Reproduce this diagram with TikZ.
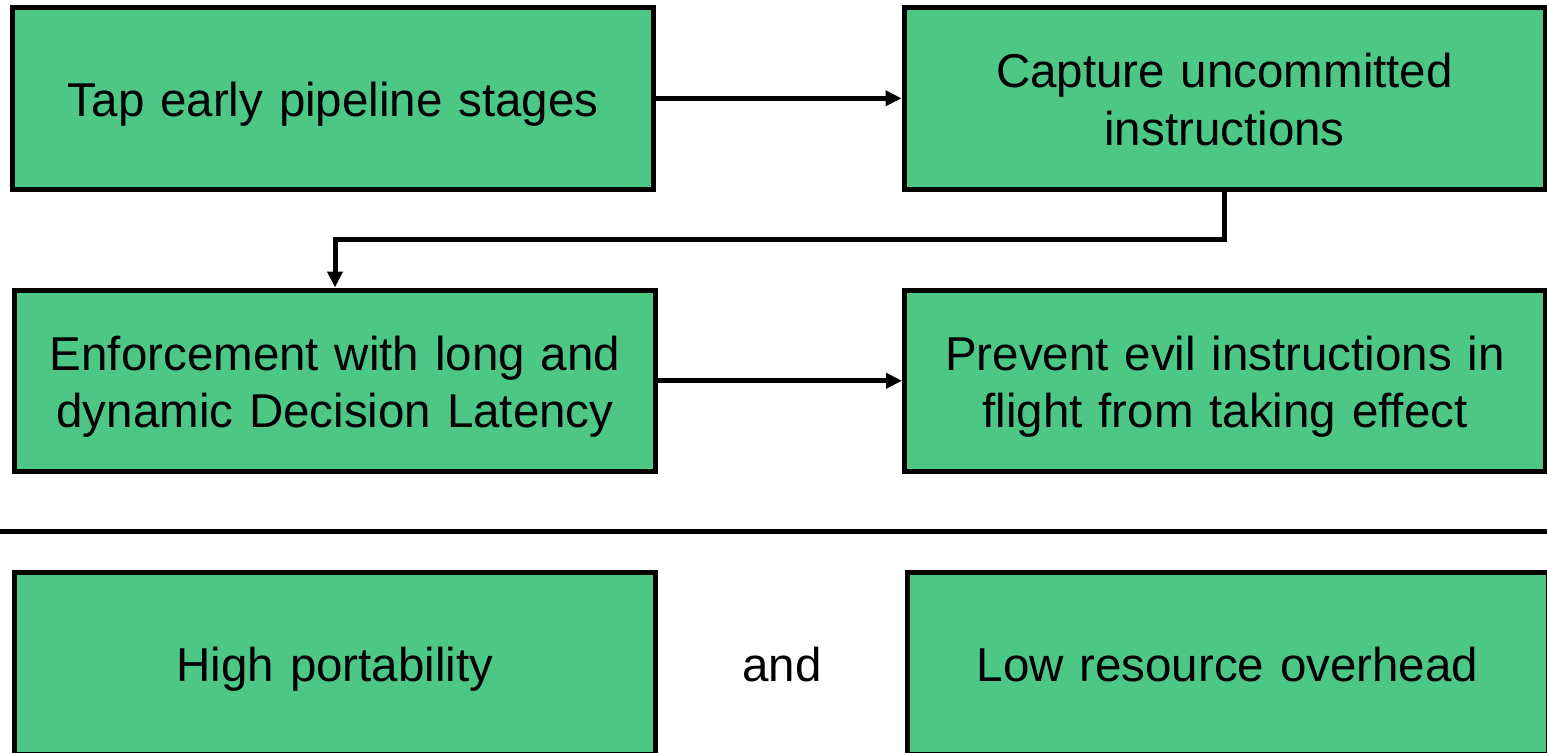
\documentclass[tikz,border=0pt]{standalone}
\usepackage{fontspec}
\setmainfont{Liberation Sans}
\usetikzlibrary{arrows.meta}
\definecolor{boxgreen}{RGB}{77,199,134}
% invisible rules that fix the height of the first line and the depth of the last
\newcommand\tophold{\rule{0pt}{24.2pt}}
\newcommand\bothold{\rule[-6pt]{0pt}{6pt}}
\begin{document}
\begin{tikzpicture}[x=0.5pt,y=-0.5pt,
  stage/.style={draw=black, fill=boxgreen, line width=2.5pt,
    minimum width=320.5pt, minimum height=90.75pt, inner sep=0pt,
    align=center, text width=315pt,
    font=\fontsize{23.75}{28.75}\selectfont},
  flow/.style={line width=2.5pt, -{Triangle[length=8pt,width=7.5pt]}},
  rule/.style={line width=2.5pt},
  plain/.style={inner sep=0pt, font=\fontsize{23.75}{28.75}\selectfont}]
\useasboundingbox (0,0) rectangle (1547,752);
% pipeline stages
\node[stage] (tap) at (333.25,98.25) {\tophold Tap early pipeline stages\bothold};
\node[stage] (capture) at (1224.5,98.25) {\tophold Capture uncommitted\\instructions\bothold};
\node[stage] (enforce) at (335,380.75) {\tophold Enforcement with long and\\dynamic Decision Latency\bothold};
\node[stage] (prevent) at (1225,380.75) {\tophold Prevent evil instructions in\\flight from taking effect\bothold};
% flow between stages
\draw[flow] (tap.east) -- (capture.west);
\draw[flow] (capture.south) -- ++(0,48) -| (enforce.north);
\draw[flow] (enforce.east) -- (prevent.west);
% separator
\coordinate (ruleL) at (0,531);
\coordinate (ruleR) at (1547,531);
\draw[rule] (ruleL) -- (ruleR);
% properties
\node[stage] (portable) at (335,663.5) {\tophold High portability\bothold};
\node[plain] (and) at (782,663.5) {\tophold and\bothold};
\node[stage] (overhead) at (1227.5,663.5) {\tophold Low resource overhead\bothold};
\end{tikzpicture}
\end{document}
